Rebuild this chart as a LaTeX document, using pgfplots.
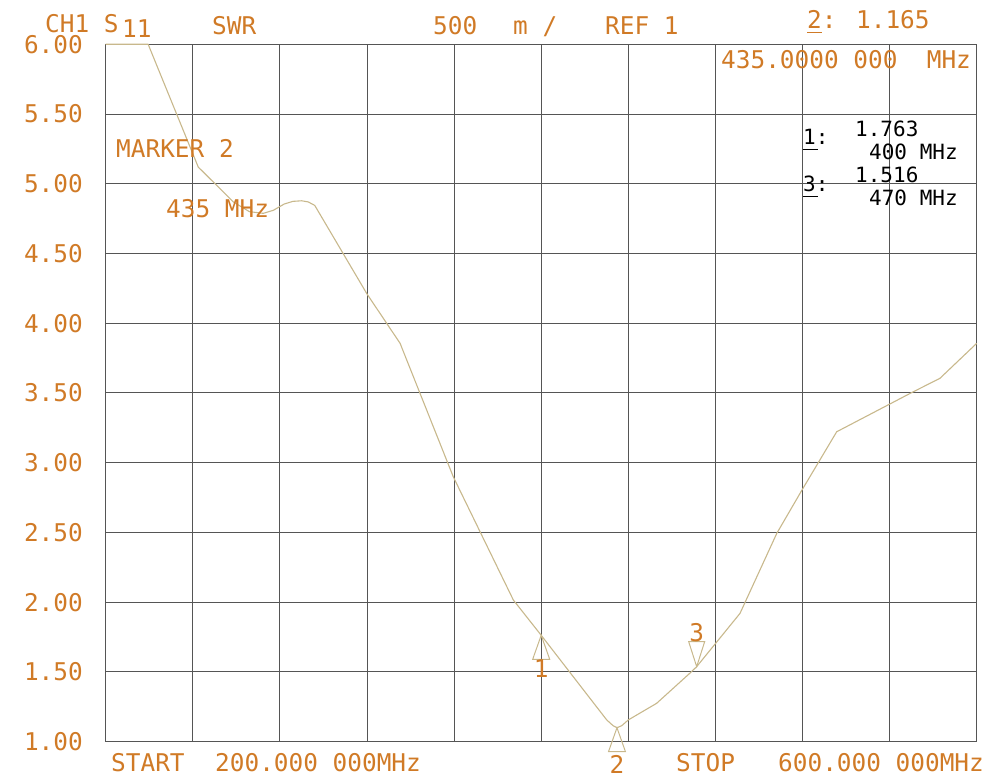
\documentclass[border=0pt]{standalone}
\usepackage{pgfplots}
\pgfplotsset{compat=1.18}
\usepackage{fontspec}
\newfontfamily\vna{DejaVu Sans Mono}
\definecolor{vnaorange}{RGB}{208,122,38}
\definecolor{trace}{RGB}{200,184,140}
\definecolor{gridc}{RGB}{85,85,85}

% marker triangles with the tip on the data point
\pgfdeclareplotmark{mkup}{%
  \pgfpathmoveto{\pgfqpoint{0pt}{0pt}}%
  \pgfpathlineto{\pgfqpoint{-8.5pt}{-24pt}}%
  \pgfpathlineto{\pgfqpoint{8.5pt}{-24pt}}%
  \pgfpathclose\pgfusepathqstroke}
\pgfdeclareplotmark{mkdown}{%
  \pgfpathmoveto{\pgfqpoint{0pt}{0pt}}%
  \pgfpathlineto{\pgfqpoint{-8pt}{25pt}}%
  \pgfpathlineto{\pgfqpoint{8pt}{25pt}}%
  \pgfpathclose\pgfusepathqstroke}

\tikzset{
  vt/.style={font=\vna\fontsize{24.4}{24.4}\selectfont, text=vnaorange, inner sep=0pt,
    anchor=west, text height=17.8pt, text depth=0pt},
  vb/.style={font=\vna\fontsize{21}{21}\selectfont, text=black, inner sep=0pt,
    anchor=west, text height=15.3pt, text depth=0pt},
}

\begin{document}
\begin{tikzpicture}
\path[use as bounding box] (-105.7pt,-36.3pt) rectangle (893.3pt,741.7pt);
\begin{axis}[
  at={(0pt,0pt)}, anchor=south west,
  scale only axis, width=871pt, height=697.4pt,
  xmin=200, xmax=600, ymin=1, ymax=6,
  xtick={200,240,...,600}, xticklabels={},
  ytick={1,1.5,...,6},
  yticklabels={1.00,1.50,2.00,2.50,3.00,3.50,4.00,4.50,5.00,5.50,6.00},
  yticklabel style={font=\vna\fontsize{24.4}{24.4}\selectfont, text=vnaorange,
    inner sep=0pt, anchor=east, xshift=-22.7pt, text height=17.8pt, text depth=0pt},
  major tick length=0pt,
  grid=major,
  major grid style={gridc, line width=1pt},
  axis line style={gridc, line width=1pt},
  clip=false,
]
% S11 SWR trace
\addplot[trace, line width=1.1pt, line join=round] coordinates {
  (200,6.00) (219.5,6.00) (242.5,5.12) (258.6,4.87) (266,4.80) (272.4,4.788)
  (277,4.81) (282,4.855) (286,4.874) (290,4.878) (293,4.87) (296,4.845)
  (320,4.21) (335.2,3.856) (359.6,2.90) (387.2,2.016) (400,1.763)
  (422.4,1.311) (430.1,1.156) (433,1.115) (434.8,1.10) (437,1.115) (440,1.156)
  (453,1.275) (468.2,1.49) (471.4,1.538) (491.3,1.92) (508.2,2.494) (519.6,2.80)
  (535.7,3.222) (570.9,3.509) (583.1,3.605) (600,3.856)
};
% markers 1 and 2 (below the trace) and 3 (above)
\addplot[only marks, mark=mkup, mark options={trace, line width=1pt},
  nodes near coords={1},
  every node near coord/.style={vt, anchor=center, yshift=-33pt}]
  coordinates {(400,1.763)};
\addplot[only marks, mark=mkup, mark options={trace, line width=1pt},
  nodes near coords={2},
  every node near coord/.style={vt, anchor=center, yshift=-37pt}]
  coordinates {(434.8,1.10)};
\addplot[only marks, mark=mkdown, mark options={trace, line width=1pt},
  nodes near coords={3},
  every node near coord/.style={vt, anchor=center, yshift=34pt}]
  coordinates {(471.4,1.538)};
\end{axis}

% header
\node[vt] at (-60.7pt,718.5pt) {CH1 S};
\node[vt] at (16.3pt,713pt) {11};
\node[vt] at (106.3pt,715.7pt) {SWR};
\node[vt] at (327.3pt,715.7pt) {500};
\node[vt] at (407.3pt,715.7pt) {m /};
\node[vt] at (499.3pt,715.7pt) {REF 1};
\node[vt] at (701.3pt,721.7pt) {2: 1.165};
\draw[vnaorange, line width=1pt] (701.3pt,709.5pt) -- (716pt,709.5pt);
\node[vt] at (615.3pt,681.7pt) {435.0000 000\ \ MHz};

% marker readouts
\node[vt] at (10.3pt,592.7pt) {MARKER 2};
\node[vt] at (60.3pt,532.7pt) {435 MHz};
\node[vb] at (697.3pt,604.7pt) {1:};
\draw[black, line width=0.8pt] (697.3pt,592.7pt) -- (712pt,592.7pt);
\node[vb] at (749.3pt,612.7pt) {1.763};
\node[vb] at (763.3pt,589.7pt) {400 MHz};
\node[vb] at (697.3pt,557.7pt) {3:};
\draw[black, line width=0.8pt] (697.3pt,545.7pt) -- (712pt,545.7pt);
\node[vb] at (749.3pt,566.7pt) {1.516};
\node[vb] at (763.3pt,543.7pt) {470 MHz};

% footer
\node[vt] at (5.3pt,-21.3pt) {START};
\node[vt] at (109.3pt,-21.3pt) {200.000 000MHz};
\node[vt] at (570.3pt,-21.3pt) {STOP};
\node[vt] at (672.3pt,-21.3pt) {600.000 000MHz};
\end{tikzpicture}
\end{document}
